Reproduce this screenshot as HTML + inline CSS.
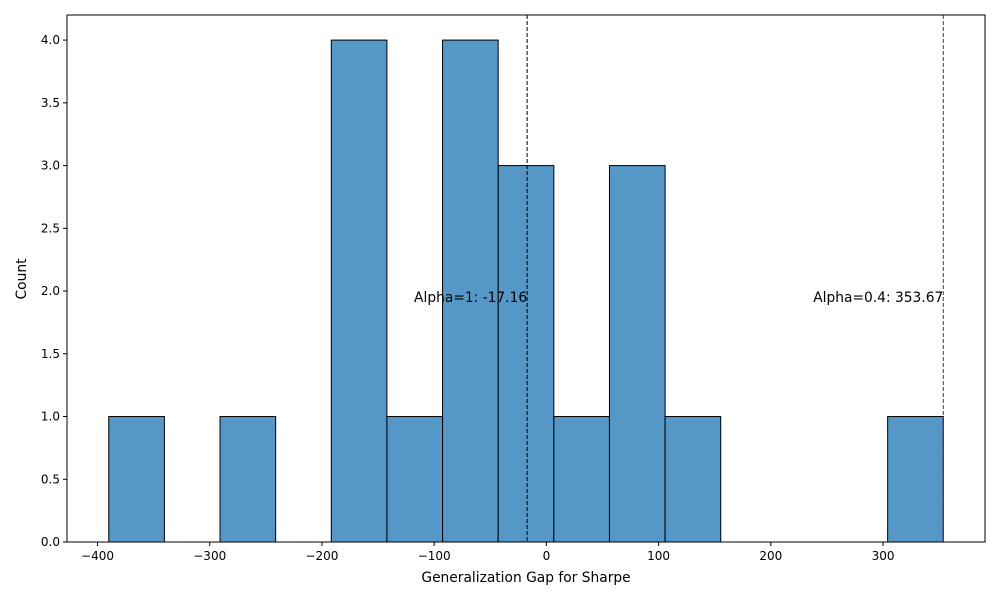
<!DOCTYPE html>
<html><head><meta charset="utf-8"><style>
body{margin:0;background:#fff;font-family:"Liberation Sans","DejaVu Sans",sans-serif}
text{font-family:"DejaVu Sans","Liberation Sans",sans-serif}
</style></head><body>
<svg id="chart" width="1000" height="600" xmlns="http://www.w3.org/2000/svg">
<rect width="1000" height="600" fill="#fff"/>
<g id="bars"></g>
<g id="xticks"></g>
<g id="yticks"></g>
<g id="lines"></g>
<rect x="67" y="15" width="918" height="527" fill="none" stroke="#000" stroke-width="1"/>
<text x="526" y="582" font-size="13.8" text-anchor="middle">Generalization Gap for Sharpe</text>
<text x="26" y="279" font-size="13.8" text-anchor="middle" transform="rotate(-90 26 279)">Count</text>
</svg>
<script>
const binStart = -390.0;
const binEnd = 353.67;
const counts = [1,0,1,0,4,1,4,3,1,3,1,0,0,0,1];
const xTicks = [-400,-300,-200,-100,0,100,200,300];
const yTicks = [0,0.5,1,1.5,2,2.5,3,3.5,4];
const refValues = [-17.16, 353.67];
const refLabels = ["Alpha=1: -17.16","Alpha=0.4: 353.67"];
const refColors = ["#000","#7a1f3d"];
const L=67,R=985,T=15,B=542;
const xmin=-427.2,xmax=390.85,ymax=4.2;
const X=v=>L+(v-xmin)/(xmax-xmin)*(R-L);
const Y=v=>B-v/ymax*(B-T);
const NS="http://www.w3.org/2000/svg";
function mk(tag,attrs,parent){const e=document.createElementNS(NS,tag);for(const k in attrs)e.setAttribute(k,attrs[k]);parent.appendChild(e);return e;}
const bw=(binEnd-binStart)/counts.length;
const gb=document.getElementById('bars');
counts.forEach((c,i)=>{if(!c)return;const x0=X(binStart+i*bw),x1=X(binStart+(i+1)*bw);
const r=mk('rect',{x:x0,y:Y(c),width:x1-x0,height:Y(0)-Y(c),fill:'#5597c6',stroke:'#000','stroke-width':1},gb);

});
const gx=document.getElementById('xticks');
xTicks.forEach(t=>{const x=X(t);mk('line',{x1:x,x2:x,y1:B,y2:B+4,stroke:'#000'},gx);
const tx=mk('text',{x:x,y:B+18,'font-size':12,'text-anchor':'middle'},gx);tx.textContent=t<0?'\u2212'+(-t):t;

});
const gy=document.getElementById('yticks');
yTicks.forEach(t=>{const y=Y(t);mk('line',{x1:L-4,x2:L,y1:y,y2:y,stroke:'#000'},gy);
const tx=mk('text',{x:L-7,y:y+4,'font-size':12,'text-anchor':'end'},gy);tx.textContent=t.toFixed(1);

});
const gl=document.getElementById('lines');
refValues.forEach((v,i)=>{const x=X(v);
const ln=mk('line',{x1:x,x2:x,y1:T,y2:B,stroke:refColors[i],'stroke-dasharray':'4,2','stroke-width':1},gl);


const tx=mk('text',{x:x,y:302,'font-size':13.8,'text-anchor':'end'},gl);tx.textContent=refLabels[i];

});
</script>
</body></html>
